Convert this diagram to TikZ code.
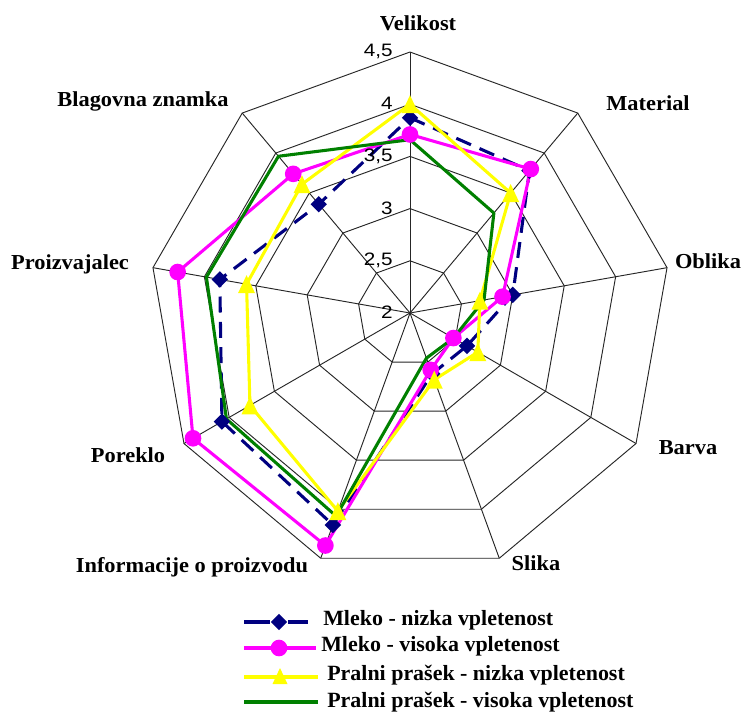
\documentclass[tikz,border=0pt]{standalone}
\usepackage{fontspec}
\setmainfont{Liberation Serif}
\newfontfamily\labfont[FakeStretch=1.05]{Liberation Serif}
\newfontfamily\legfont[FakeStretch=1.01]{Liberation Serif}
\newfontfamily\tickfont[FakeStretch=1.15]{Liberation Sans}
\usetikzlibrary{shapes.geometric}
\definecolor{navyc}{RGB}{0,0,128}
\definecolor{magc}{RGB}{255,0,255}
\definecolor{yelc}{RGB}{255,255,0}
\definecolor{grnc}{RGB}{0,128,0}
\tikzset{
  gridline/.style={draw=black!85, line width=0.7pt},
  navyline/.style={draw=navyc, line width=2.3pt, dash pattern=on 12pt off 7pt, line join=round},
  magline/.style={draw=magc, line width=2.3pt, line join=round},
  yelline/.style={draw=yelc, line width=2.3pt, line join=round},
  grnline/.style={draw=grnc, line width=2.3pt, line join=round},
  navymark/.style={diamond, fill=navyc, minimum width=12.5pt, minimum height=12.5pt, inner sep=0pt},
  magmark/.style={circle, fill=magc, minimum size=12.5pt, inner sep=0pt},
  catlabel/.style={font=\labfont\bfseries\fontsize{16}{18}\selectfont, inner sep=0pt},
  legtext/.style={font=\legfont\bfseries\fontsize{16.3}{18}\selectfont, inner sep=0pt, anchor=west},
  ticklabel/.style={font=\tickfont\fontsize{13.5}{15}\selectfont, inner sep=0pt, anchor=east},
}
\begin{document}
\begin{tikzpicture}[x=0.75pt,y=-0.75pt]
\useasboundingbox (0,0) rectangle (743,715);
\fill[white] (0,0) rectangle (743,715);
\begin{scope}[shift={(410,313)}]
  \coordinate (O) at (0,0);
  \foreach \k in {0,...,8} \coordinate (a\k) at ({-90+40*\k}:261);
  % rings
  \foreach \r in {1,...,5}
    \draw[gridline] (-90:{\r*52.2}) \foreach \k in {1,...,8}{ -- ({-90+40*\k}:{\r*52.2})} -- cycle;
  % spokes
  \foreach \k in {0,...,8} \draw[gridline] (O) -- (a\k);
  % data points
  \foreach \v [count=\k from 0] in {3.87,3.78,3.0,2.63,2.62,4.16,4.08,3.85,3.36}
    \coordinate (n\k) at ({-90+40*\k}:{(\v-2)*104.4});
  \foreach \v [count=\k from 0] in {3.71,3.80,2.90,2.48,2.58,4.37,4.40,4.26,3.74}
    \coordinate (m\k) at ({-90+40*\k}:{(\v-2)*104.4});
  \foreach \v [count=\k from 0] in {4.0,3.50,2.68,2.75,2.68,4.02,3.77,3.59,3.61}
    \coordinate (y\k) at ({-90+40*\k}:{(\v-2)*104.4});
  \foreach \v [count=\k from 0] in {3.66,3.25,2.72,2.48,2.46,4.07,4.03,3.98,3.96}
    \coordinate (g\k) at ({-90+40*\k}:{(\v-2)*104.4});
  % series lines
  \draw[navyline] (n0) -- (n1) -- (n2) -- (n3) -- (n4) -- (n5) -- (n6) -- (n7) -- (n8) -- cycle;
  \draw[magline] (m0) -- (m1) -- (m2) -- (m3) -- (m4) -- (m5) -- (m6) -- (m7) -- (m8) -- cycle;
  \draw[yelline] (y0) -- (y1) -- (y2) -- (y3) -- (y4) -- (y5) -- (y6) -- (y7) -- (y8) -- cycle;
  \draw[grnline] (g0) -- (g1) -- (g2) -- (g3) -- (g4) -- (g5) -- (g6) -- (g7) -- (g8) -- cycle;
  % markers
  \foreach \k in {0,...,8} \node[navymark] (nm\k) at (n\k) {};
  \foreach \k in {0,...,8} \node[magmark] (mm\k) at (m\k) {};
  \foreach \k in {0,...,8} \fill[yelc] (y\k) ++(0,-9) -- ++(8.5,18) -- ++(-17,0) -- cycle;
\end{scope}
% tick labels
\node[ticklabel] (t45) at (393,51) {4,5};
\node[ticklabel] (t40) at (393,103) {4};
\node[ticklabel] (t35) at (393,156) {3,5};
\node[ticklabel] (t30) at (393,208) {3};
\node[ticklabel] (t25) at (393,260) {2,5};
\node[ticklabel] (t20) at (393,312) {2};
% category labels
\node[catlabel] (lVel) at (418,23) {Velikost};
\node[catlabel] (lMat) at (648,103) {Material};
\node[catlabel] (lObl) at (708,261) {Oblika};
\node[catlabel] (lBar) at (688,448) {Barva};
\node[catlabel] (lSli) at (536,563) {Slika};
\node[catlabel] (lInf) at (192,567) {Informacije o proizvodu};
\node[catlabel] (lPor) at (128,455) {Poreklo};
\node[catlabel] (lPro) at (70,264) {Proizvajalec};
\node[catlabel] (lBla) at (143,101) {Blagovna znamka};
% legend
\draw[navyc, line width=3pt] (244,622) -- (270,622);
\draw[navyc, line width=3pt] (288,622) -- (308,622);
\node[navymark] (ln) at (279,622) {};
\draw[magc, line width=3pt] (244,648) -- (316,648);
\node[magmark] (lm) at (279,648) {};
\draw[yelc, line width=3pt] (244,677) -- (318,677);
\fill[yelc] (280,676) ++(0,-8) -- ++(7.5,16) -- ++(-15,0) -- cycle;
\draw[grnc, line width=3pt] (244,702) -- (318,702);
\node[legtext] (tn) at (323,620) {Mleko - nizka vpletenost};
\node[legtext] (tm) at (321,646) {Mleko - visoka vpletenost};
\node[legtext] (ty) at (327,675) {Pralni prašek - nizka vpletenost};
\node[legtext] (tg) at (327,702) {Pralni prašek - visoka vpletenost};
\end{tikzpicture}
\end{document}
